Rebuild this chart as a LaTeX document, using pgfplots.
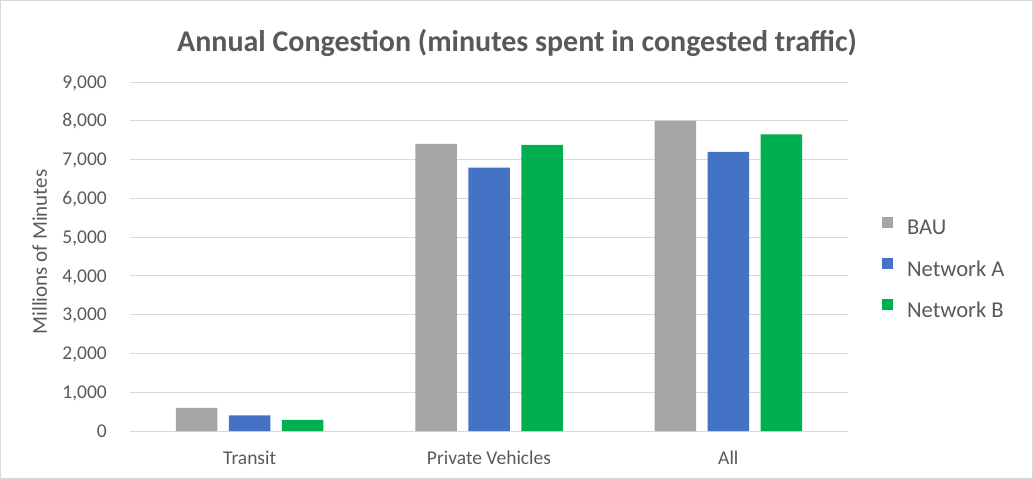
\documentclass[border=0pt]{standalone}
\usepackage{pgfplots}
\pgfplotsset{compat=1.18}
\usepackage{fontspec}
\setmainfont{Carlito}
\definecolor{bau}{HTML}{A5A5A5}
\definecolor{neta}{HTML}{4472C4}
\definecolor{netb}{HTML}{00B050}
\definecolor{gridgray}{HTML}{D9D9D9}
\definecolor{txt}{HTML}{595959}
\begin{document}
\begin{tikzpicture}
\draw[gridgray, line width=1pt] (0.5pt,0.5pt) rectangle (1032.5pt,478.5pt);
\useasboundingbox (0pt,0pt) rectangle (1033pt,479pt);
\node[font=\fontsize{30}{36}\selectfont\bfseries, text=txt, anchor=center] at (517pt,436pt) {Annual Congestion (minutes spent in congested traffic)};
\begin{axis}[
  at={(130pt,48pt)}, anchor=south west,
  width=718pt, height=349pt, scale only axis,
  xmin=-0.5, xmax=2.5, ymin=0, ymax=9000,
  ytick={0,1000,...,9000},
  xtick={0,1,2},
  xticklabels={Transit,Private Vehicles,All},
  ymajorgrids, grid style={gridgray, line width=1pt},
  axis x line*=bottom,
  axis y line*=left,
  y axis line style={draw=none},
  x axis line style={gridgray, line width=1pt, -},
  major tick length=0pt,
  ybar=11.5pt, bar width=41.5pt,
  /pgf/number format/assume math mode=true,
  /pgf/number format/1000 sep={,},
  yticklabel style={font=\fontsize{19.5}{23}\selectfont, text=txt, anchor=east, inner sep=0pt, xshift=-23pt, text height=12.3pt, text depth=0pt},
  xticklabel style={font=\fontsize{19.5}{23}\selectfont, text=txt, anchor=north, inner sep=0pt, yshift=-21pt, text height=12.6pt, text depth=0pt},
  ylabel={Millions of Minutes},
  every axis y label/.style={at={(rel axis cs:-0.1156,0.513)}, rotate=90, anchor=base, font=\fontsize{21}{25}\selectfont, text=txt},
  legend style={at={(rel axis cs:1.0474,0.6139)}, anchor=north west, draw=none, fill=none, inner sep=0pt, outer sep=0pt, row sep=23pt, column sep=14pt, font=\fontsize{22.6}{27}\selectfont, text=txt, nodes={inner sep=0pt, text height=14.5pt, text depth=0pt}},
  legend cell align=left,
  legend image code/.code={\fill[#1] (0pt,0pt) rectangle (11pt,11pt);},
  clip=false,
]
\addplot[fill=bau, draw=none] coordinates {(0,595) (1,7405) (2,8000)};
\addplot[fill=neta, draw=none] coordinates {(0,400) (1,6790) (2,7195)};
\addplot[fill=netb, draw=none] coordinates {(0,290) (1,7380) (2,7650)};
\legend{BAU,Network A,Network B}
\end{axis}
\end{tikzpicture}
\end{document}
